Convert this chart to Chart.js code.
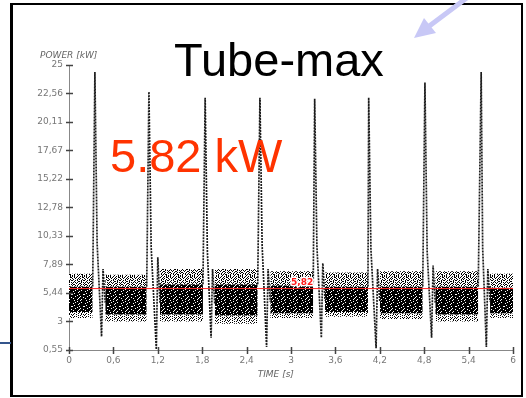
<!DOCTYPE html>
<html>
<head>
<meta charset="utf-8">
<script src="https://cdn.jsdelivr.net/npm/chart.js@4/dist/chart.umd.min.js"></script>
<style>
  html, body { margin: 0; padding: 0; background: #fff; }
  #wrap { position: relative; width: 526px; height: 398px; overflow: hidden; }
  #chart { position: absolute; left: 0; top: 0; }
  .frame { position: absolute; left: 10px; top: 3px; width: 508px; height: 390px;
           border: 2px solid #000; border-left-width: 3px; }
  .big { position: absolute; font-family: "Liberation Sans", Arial, sans-serif; font-size: 47px;
         line-height: 47px; white-space: nowrap; }
  #title { left: 174px; top: 36px; color: #000; }
  #mean { left: 110px; top: 132px; color: #ff3300; }
  #blue { position: absolute; left: 0; top: 342px; width: 11px; height: 2px; background: #34558c; }
  svg { position: absolute; left: 0; top: 0; }
</style>
</head>
<body>
<div id="wrap">
  <canvas id="chart" width="526" height="398"></canvas>
  <div class="frame"></div>
  <div id="blue"></div>
  <svg width="526" height="398">
    <line x1="468" y1="-3" x2="428" y2="27" stroke="#c8c8f6" stroke-width="5"/>
    <polygon points="414,38 424,18 436,33" fill="#c8c8f6"/>
  </svg>
  <div class="big" id="title">Tube-max</div>
  <div class="big" id="mean">5.82 kW</div>
</div>
<script>
// --- données ---
const yTickValues = [0.55, 3, 5.44, 7.89, 10.33, 12.78, 15.22, 17.67, 20.11, 22.56, 25];
const yTickLabels = ['0,55', '3', '5,44', '7,89', '10,33', '12,78', '15,22', '17,67', '20,11', '22,56', '25'];
const xTickValues = [0, 0.6, 1.2, 1.8, 2.4, 3, 3.6, 4.2, 4.8, 5.4, 6];
const xTickLabels = ['0', '0,6', '1,2', '1,8', '2,4', '3', '3,6', '4,2', '4,8', '5,4', '6'];

const meanPower = 5.82;
const meanLabel = '5,82';
const meanLabelX = 3.3;

// bandes de bruit entre les impulsions (s / kW)
const bandStart   = [0, 0.49, 1.23, 1.97, 2.72, 3.46, 4.20, 4.95, 5.69];
const bandEnd     = [0.32, 1.05, 1.81, 2.55, 3.30, 4.04, 4.78, 5.53, 6.0];
const bandTop     = [7.1, 7.0, 7.5, 7.5, 7.3, 7.2, 7.3, 7.3, 7.1];
const denseTop    = [6.0, 6.0, 6.2, 6.2, 6.1, 6.0, 6.0, 6.0, 5.9];
const denseBottom = [3.8, 3.6, 3.6, 3.5, 3.7, 3.8, 3.7, 3.6, 3.7];
const bandBottom  = [3.3, 3.0, 3.0, 2.8, 3.3, 3.4, 3.2, 3.0, 3.3];

// impulsions
const peakX    = [0.35, 1.08, 1.84, 2.58, 3.32, 4.05, 4.81, 5.57];
const peakY    = [24.4, 22.7, 22.2, 22.2, 22.1, 22.2, 23.5, 24.4];
const kneeX    = [0.38, 1.11, 1.87, 2.61, 3.35, 4.08, 4.84, 5.59];
const kneeY    = [9.7, 9.4, 9.0, 9.5, 9.5, 9.2, 9.0, 9.3];
const dipX     = [0.44, 1.18, 1.92, 2.67, 3.41, 4.15, 4.90, 5.64];
const dipY     = [1.7, 0.6, 1.6, 0.8, 1.6, 0.7, 1.6, 0.8];
const reboundX = [0.46, 1.20, 1.94, 2.69, 3.43, 4.17, 4.92, 5.66];
const reboundY = [7.5, 8.5, 7.5, 7.5, 8.0, 7.5, 7.8, 7.5];

// motifs de points (style uniquement) pour imiter le nuage de mesures
function makePattern(rows) {
  const c = document.createElement('canvas');
  c.width = rows[0].length;
  c.height = rows.length;
  const g = c.getContext('2d');
  g.fillStyle = '#fff';
  g.fillRect(0, 0, c.width, c.height);
  g.fillStyle = '#000';
  rows.forEach((r, j) => {
    for (let i = 0; i < r.length; i++) if (r[i] === '#') g.fillRect(i, j, 1, 1);
  });
  return g.createPattern(c, 'repeat');
}
const densePattern = makePattern([
  '##.#####.###',
  '#####.######',
  '###.#####.##',
  '#.#####.####',
  '######.#####',
  '##.#########',
  '.######.###.',
  '#####.######',
  '###.####.###',
  '#######.###.',
  '#.####.#####',
  '#####.###.##'
]);
const sparsePattern = makePattern([
  '#.#..#..#.#.',
  '..#.#..#..##',
  '#..#..#.#...',
  '.#...#.#..#.',
  '#..#.#...#.#',
  '..#...##.#..',
  '.#.#.#...#.#',
  '#...#..##...',
  '.##...#..#.#',
  '#..#.#..#...',
  '..#..#.#.##.',
  '#.#...#...#.'
]);
const fringePattern = makePattern([
  '#...#..#..#.',
  '..#...#..#..',
  '.#..#....#.#',
  '#.....#.#...',
  '..#.#.....#.',
  '.#....#.#..#'
]);

// --- construction des datasets ---
const datasets = [];

datasets.push({
  data: [{ x: xTickValues[0], y: meanPower }, { x: xTickValues[xTickValues.length - 1], y: meanPower }],
  borderColor: '#ff2626',
  borderWidth: 1,
  pointRadius: 0,
  fill: false
});

const spikePts = [];
peakX.forEach((px, i) => {
  spikePts.push({ x: bandEnd[i], y: denseTop[i] });
  spikePts.push({ x: px, y: peakY[i] });
  spikePts.push({ x: kneeX[i], y: kneeY[i] });
  spikePts.push({ x: dipX[i], y: dipY[i] });
  spikePts.push({ x: reboundX[i], y: reboundY[i] });
  spikePts.push({ x: bandStart[i + 1], y: denseBottom[i + 1] + 1 });
  spikePts.push({ x: bandStart[i + 1], y: null });
});
datasets.push({
  data: spikePts,
  borderColor: '#1c1c1c',
  borderWidth: 1.7,
  borderDash: [2, 1],
  pointRadius: 0,
  tension: 0,
  fill: false
});

function zone(x0, x1, top, bottom, fill) {
  return {
    data: [{ x: x0, y: top }, { x: x1, y: top }],
    borderColor: 'transparent',
    borderWidth: 0,
    backgroundColor: fill,
    pointRadius: 0,
    fill: { value: bottom }
  };
}
bandStart.forEach((s, i) => {
  datasets.push(zone(s, bandEnd[i], bandTop[i], denseTop[i], sparsePattern));
  datasets.push(zone(s, bandEnd[i], denseTop[i], denseBottom[i], densePattern));
  datasets.push(zone(s, bandEnd[i], denseBottom[i], bandBottom[i], fringePattern));
});

const tickFont = { family: '"DejaVu Sans", Verdana, sans-serif', size: 9 };

// petits traits de graduation croisant les axes + titres d'axes + étiquette moyenne
const axisExtras = {
  id: 'axisExtras',
  afterDraw(chart) {
    const { ctx, chartArea, scales: { x, y } } = chart;
    ctx.save();
    ctx.strokeStyle = '#444';
    ctx.lineWidth = 1.5;
    ctx.beginPath();
    yTickValues.forEach(v => {
      const py = Math.round(y.getPixelForValue(v)) + 0.5;
      ctx.moveTo(chartArea.left - 3, py);
      ctx.lineTo(chartArea.left + 4, py);
    });
    xTickValues.forEach(v => {
      const px = Math.round(x.getPixelForValue(v)) + 0.5;
      ctx.moveTo(px, chartArea.bottom - 3);
      ctx.lineTo(px, chartArea.bottom + 4);
    });
    ctx.stroke();

    ctx.font = 'italic 9px "DejaVu Sans", Verdana, sans-serif';
    ctx.fillStyle = '#666';
    ctx.textBaseline = 'middle';
    ctx.textAlign = 'left';
    ctx.fillText('POWER [kW]', 40, chartArea.top - 9);
    ctx.fillText('TIME [s]', chartArea.left + (chartArea.right - chartArea.left) * 0.425, chartArea.bottom + 25);

    ctx.font = 'bold 9px "DejaVu Sans", Verdana, sans-serif';
    ctx.textAlign = 'right';
    ctx.textBaseline = 'bottom';
    const lx = x.getPixelForValue(meanLabelX);
    const ly = y.getPixelForValue(meanPower) - 1;
    ctx.lineJoin = 'round';
    ctx.lineWidth = 3;
    ctx.strokeStyle = '#fff';
    ctx.strokeText(meanLabel, lx, ly);
    ctx.fillStyle = '#ff1a1a';
    ctx.fillText(meanLabel, lx, ly);
    ctx.restore();
  }
};

new Chart(document.getElementById('chart'), {
  type: 'line',
  data: { datasets: datasets },
  options: {
    responsive: false,
    animation: false,
    events: [],
    layout: { padding: { left: 0, top: 65, right: 13, bottom: 0 } },
    plugins: { legend: { display: false }, tooltip: { enabled: false } },
    scales: {
      x: {
        type: 'linear',
        min: 0,
        max: 6,
        grid: { display: false, drawTicks: false },
        border: { display: true, color: '#888', width: 1 },
        afterBuildTicks: s => { s.ticks = xTickValues.map(v => ({ value: v })); },
        afterFit: s => { s.height = 48; },
        ticks: {
          font: tickFont,
          color: '#777',
          padding: 5,
          maxRotation: 0,
          callback: (v) => xTickLabels[xTickValues.indexOf(v)]
        }
      },
      y: {
        type: 'linear',
        min: 0.55,
        max: 25,
        grid: { display: false, drawTicks: false },
        border: { display: true, color: '#888', width: 1 },
        afterBuildTicks: s => { s.ticks = yTickValues.map(v => ({ value: v })); },
        afterFit: s => { s.width = 69; },
        ticks: {
          font: tickFont,
          color: '#777',
          padding: 6,
          callback: (v) => yTickLabels[yTickValues.indexOf(v)]
        }
      }
    }
  },
  plugins: [axisExtras]
});
</script>
</body>
</html>
